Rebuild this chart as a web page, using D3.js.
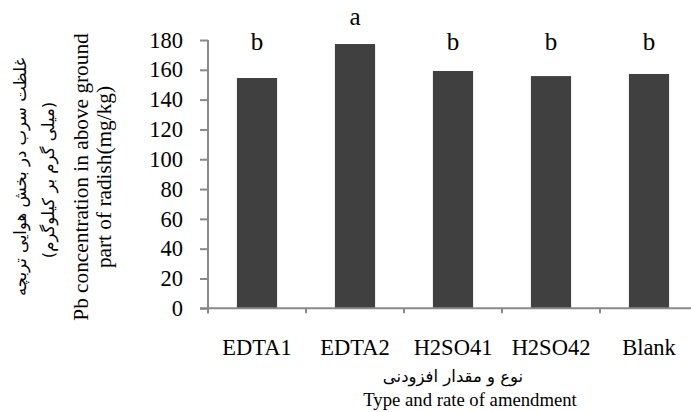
<!DOCTYPE html>
<html>
<head>
<meta charset="utf-8">
<script src="https://cdn.jsdelivr.net/npm/d3@7"></script>
<style>
  html, body { margin: 0; padding: 0; background: #fff; }
  svg { display: block; }
</style>
</head>
<body>
<svg id="chart" width="691" height="412"></svg>
<script>
// ---- data ----
const categories = ["EDTA1", "EDTA2", "H2SO41", "H2SO42", "Blank"];
const values = [154.5, 177.3, 159.2, 155.8, 157.2];
const letters = ["b", "a", "b", "b", "b"];
const letterLevels = [173, 190, 173, 173, 173];
const yTicks = [0, 20, 40, 60, 80, 100, 120, 140, 160, 180];
const yTitleFa = ["غلظت سرب در بخش هوایی تربچه", "(میلی گرم بر کیلوگرم)"];
const yTitleEn = ["Pb concentration in above ground", "part of radish(mg/kg)"];
const xTitleFa = "نوع و مقدار افزودنی";
const xTitleEn = "Type and rate of amendment";

// ---- layout ----
const SERIF = "'Liberation Serif', 'Times New Roman', serif";
const FA = "'DejaVu Sans', 'Liberation Serif', serif";
const svg = d3.select("#chart");
const pLeft = 208, pRight = 698, pTop = 40, pBottom = 308.3;
const axisColor = "#898989";

// draw text at base 20px and scale up, so the serif face is kept
function label(parent, px, py, txt, size, opts = {}) {
  const base = Math.min(20, size);
  const k = size / base;
  const rot = opts.rotate ? ` rotate(${opts.rotate})` : "";
  const t = parent.append("text")
    .attr("transform", `translate(${px},${py})${rot} scale(${k})`)
    .attr("text-anchor", opts.anchor || "middle")
    .style("font-family", opts.family || SERIF)
    .style("font-size", base + "px")
    .attr("fill", "#000")
    .text(txt);
  if (opts.dy) t.attr("dy", opts.dy);
  if (opts.rtl) t.attr("direction", "rtl");
  return t;
}

const x = d3.scaleBand().domain(categories).range([pLeft, pRight]).paddingInner(0.59).paddingOuter(0.295);
const xb = d3.scaleBand().domain(categories).range([pLeft, pRight]);
const y = d3.scaleLinear().domain([0, 180]).range([pBottom, pTop]);

// bars
svg.append("g").selectAll("rect").data(categories).join("rect")
  .attr("x", d => x(d))
  .attr("width", x.bandwidth())
  .attr("y", (d, i) => y(values[i]))
  .attr("height", (d, i) => y(0) - y(values[i]))
  .attr("fill", "#404040");

// y axis
const yAxis = svg.append("g").attr("transform", `translate(${pLeft},0)`)
  .call(d3.axisLeft(y).tickValues(yTicks).tickSize(8).tickFormat(""));
yAxis.select(".domain").attr("stroke", axisColor).attr("stroke-width", 2).attr("d", `M0,${pTop}V${pBottom + 5}`);
yAxis.selectAll(".tick line").attr("stroke", axisColor).attr("stroke-width", 2);
const yLab = svg.append("g");
yTicks.forEach(v => label(yLab, 183, y(v), String(v), 22.5, { anchor: "end", dy: "0.34em" }));

// x axis
const xAxis = svg.append("g").attr("transform", `translate(0,${pBottom})`);
xAxis.append("line").attr("x1", pLeft - 8).attr("x2", pRight).attr("y1", 0).attr("y2", 0)
  .attr("stroke", axisColor).attr("stroke-width", 2);
xAxis.selectAll("line.tk").data(categories).join("line").attr("class", "tk")
  .attr("x1", d => xb(d)).attr("x2", d => xb(d)).attr("y1", 0).attr("y2", 5)
  .attr("stroke", axisColor).attr("stroke-width", 2);
const xLab = svg.append("g");
categories.forEach(c => label(xLab, x(c) + x.bandwidth() / 2, pBottom + 47, c, 22.5));

// significance letters
const letG = svg.append("g");
categories.forEach((c, i) => label(letG, x(c) + x.bandwidth() / 2, y(letterLevels[i]), letters[i], 25));

// y titles (rotated)
const cy = 177;
label(svg, 26, cy, yTitleFa[0], 16.5, { rotate: -90, family: FA, rtl: true });
label(svg, 54, cy + 3, yTitleFa[1], 16.5, { rotate: -90, family: FA, rtl: true });
label(svg, 88, cy, yTitleEn[0], 21.3, { rotate: -90 });
label(svg, 111, cy, yTitleEn[1], 21.3, { rotate: -90 });

// x titles
label(svg, 453, 382, xTitleFa, 16.5, { family: FA, rtl: true });
label(svg, 470, 406, xTitleEn, 18.7);
</script>
</body>
</html>
